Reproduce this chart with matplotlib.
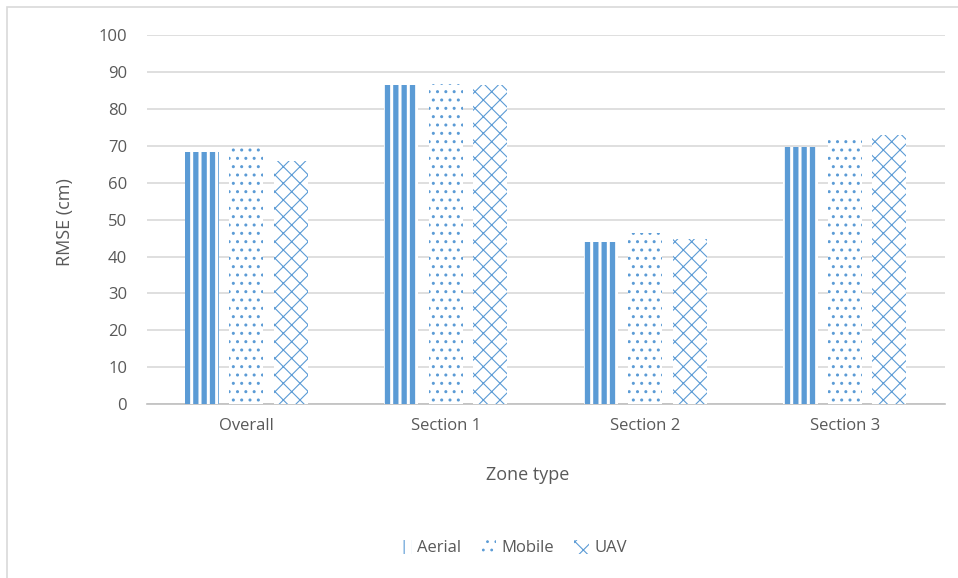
import numpy as np
import matplotlib
matplotlib.use("Agg")
import matplotlib.pyplot as plt
from matplotlib.patches import Rectangle, Patch

plt.rcParams['font.family'] = ['Open Sans', 'DejaVu Sans']

zones = ['Overall', 'Section 1', 'Section 2', 'Section 3']
aerial = [68.4, 86.6, 44.0, 69.6]
mobile = [69.8, 86.9, 46.4, 71.7]
uav = [65.9, 86.6, 44.8, 73.0]
series_names = ['Aerial', 'Mobile', 'UAV']

blue = '#5B9BD5'
text_gray = '#595959'
grid_gray = '#D9D9D9'

fig = plt.figure(figsize=(9.58, 5.78), dpi=100)
ax = fig.add_axes([0.153, 0.301, 0.833, 0.638])

# outer chart frame
fig.patches.append(Rectangle((7 / 958, -0.05), 1.2, 1.05 - 7 / 578,
                             transform=fig.transFigure, fill=False,
                             edgecolor=grid_gray, linewidth=1.2))

x = np.arange(len(zones))
width = 0.172
step = 0.223
hatches = ['||', '..', 'xx']
hatch_lw = [3.8, 1.0, 0.8]

for i, (vals, h) in enumerate(zip([aerial, mobile, uav], hatches)):
    plt.rcParams['hatch.linewidth'] = hatch_lw[i]
    bars = ax.bar(x + (i - 1) * step, vals, width, facecolor='white',
                  edgecolor=blue, linewidth=0, hatch=h, zorder=3)
    for b in bars:
        if hasattr(b, 'set_hatch_linewidth'):
            b.set_hatch_linewidth(hatch_lw[i])

ax.set_xlim(-0.5, 3.5)
ax.set_ylim(0, 100)
ax.set_yticks(np.arange(0, 101, 10))
ax.set_xticks(x)
ax.set_xticklabels(zones)
ax.tick_params(axis='both', length=0, labelsize=12, colors=text_gray)
ax.tick_params(axis='y', pad=14)
ax.tick_params(axis='x', pad=10)
ax.grid(axis='y', color=grid_gray, linewidth=1.2, zorder=0)
ax.set_axisbelow(True)
for s in ['top', 'right', 'left']:
    ax.spines[s].set_visible(False)
ax.spines['bottom'].set_color('#BFBFBF')
ax.spines['bottom'].set_linewidth(1.2)

fig.text(65 / 958, 1 - 222 / 578, 'RMSE (cm)', rotation=90, ha='center',
         va='center', fontsize=13, color=text_gray)
fig.text(528 / 958, 1 - 475 / 578, 'Zone type', ha='center', va='center',
         fontsize=13, color=text_gray)

handles = []
for i, h in enumerate(hatches):
    plt.rcParams['hatch.linewidth'] = hatch_lw[i]
    p = Patch(facecolor='white', edgecolor=blue, linewidth=0, hatch=h)
    if hasattr(p, 'set_hatch_linewidth'):
        p.set_hatch_linewidth(hatch_lw[i])
    handles.append(p)
leg = fig.legend(handles, series_names, loc='center', ncol=3,
                 bbox_to_anchor=(512 / 958, 1 - 548 / 578), frameon=False,
                 fontsize=12, handlelength=0.9, handleheight=0.9,
                 handletextpad=0.3, columnspacing=1.2)
for t in leg.get_texts():
    t.set_color(text_gray)

fig.savefig('out.png', dpi=100)
